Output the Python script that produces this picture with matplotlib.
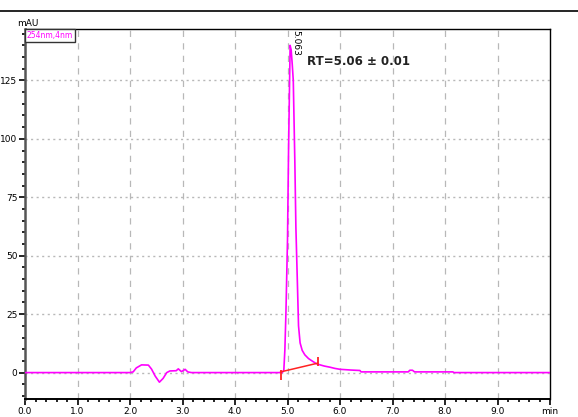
import matplotlib.pyplot as plt
from matplotlib.lines import Line2D
from matplotlib.ticker import MultipleLocator

# chromatogram trace (min, mAU)
time_min = [0.0, 2.00, 2.06, 2.12, 2.22, 2.35, 2.41, 2.48, 2.56, 2.63, 2.70,
            2.76, 2.88, 2.92, 2.98, 3.05, 3.10, 3.17, 4.90, 4.93, 4.95, 4.97,
            5.00, 5.02, 5.04, 5.05, 5.07, 5.09, 5.11, 5.14, 5.16, 5.19, 5.21,
            5.24, 5.28, 5.33, 5.40, 5.46, 5.55, 5.62, 5.70, 5.81, 5.90, 6.00,
            6.20, 6.38, 6.40, 7.30, 7.33, 7.38, 7.42, 8.15, 8.17, 10.0]
signal_mau = [0.0, 0.0, 0.3, 2.0, 3.3, 3.2, 1.5, -1.5, -4.1, -2.5, 0.0,
              0.7, 0.8, 1.6, 0.4, 1.4, 0.3, 0.0, 0.0, 1.0, 9.7, 25.5,
              56.7, 95.0, 125.0, 140.0, 138.0, 132.0, 125.0, 90.0, 62.0, 37.0, 20.0,
              12.7, 9.5, 7.6, 6.0, 5.1, 3.8, 3.3, 2.8, 2.3, 1.8, 1.4,
              1.1, 0.9, 0.3, 0.3, 1.0, 1.0, 0.3, 0.3, 0.0, 0.0]

# integration baseline under the peak
base_t = [4.87, 5.57]
base_v = [0.3, 4.0]
base_tick_t = [4.87, 5.58]
base_tick_lo = [-3.0, 3.0]
base_tick_hi = [1.0, 6.5]

peak_rt = 5.063
x_ticks = [0, 1, 2, 3, 4, 5, 6, 7, 8, 9, 10]
x_labels = ["0.0", "1.0", "2.0", "3.0", "4.0", "5.0", "6.0", "7.0", "8.0", "9.0", "min"]
y_ticks = [0, 25, 50, 75, 100, 125]

plt.rcParams['font.family'] = ['Liberation Sans Narrow', 'DejaVu Sans']

fig = plt.figure(figsize=(5.78, 4.17), dpi=100)
ax = fig.add_axes([25 / 578, 18 / 417, 525 / 578, 370 / 417])

# grid
for xv in x_ticks[1:-1]:
    ax.axvline(xv, color='#b8b8b8', lw=0.9, ls=(0, (5, 5)), zorder=0)
for yv in y_ticks:
    ax.axhline(yv, color='#b8b8b8', lw=1.0, ls=(0, (1.5, 2.5)), zorder=0)

ax.plot(time_min, signal_mau, color='#ff00ff', lw=1.2, zorder=3)
ax.plot(base_t, base_v, color='#ff2222', lw=1.1, zorder=4)
ax.vlines(base_tick_t, base_tick_lo, base_tick_hi, color='#ff2222', lw=1.3, zorder=4)

ax.set_xlim(0, 10)
ax.set_ylim(-11.3, 147)
ax.set_xticks(x_ticks)
ax.set_xticklabels(x_labels)
ax.set_yticks(y_ticks)
ax.xaxis.set_minor_locator(MultipleLocator(0.2))
ax.yaxis.set_minor_locator(MultipleLocator(5))
ax.tick_params(axis='both', which='major', direction='out', length=4, width=1.2,
               labelsize=6.5, pad=1.5)
ax.tick_params(axis='both', which='minor', direction='out', length=2.5, width=1.2)

for side in ['top', 'right', 'bottom']:
    ax.spines[side].set_color('black')
    ax.spines[side].set_linewidth(1.0)
ax.spines['left'].set_color('#555555')
ax.spines['left'].set_linewidth(1.8)
ax.spines['bottom'].set_linewidth(1.4)

# peak labels
ax.text(peak_rt + 0.10, 146.5, f"{peak_rt:.3f}", rotation=270, ha='center', va='top',
        fontsize=6.5, color='black')
ax.text(5.37, 133, "RT=5.06 ± 0.01", ha='left', va='center', fontsize=8.5,
        fontweight='bold', color='#222222')

# signal box
ax.text(0.003, 0.995, "254nm,4nm", transform=ax.transAxes, ha='left', va='top',
        fontsize=5.5, color='#ff00ff',
        bbox=dict(boxstyle='square,pad=0.25', fc='white', ec='#333333', lw=1.0))

fig.text(28 / 578, 1 - 23 / 417, "mAU", ha='center', va='center', fontsize=6.5)
fig.add_artist(Line2D([0, 1], [1 - 10.5 / 417, 1 - 10.5 / 417], color='black', lw=1.2))

fig.savefig('out.png', dpi=100)
